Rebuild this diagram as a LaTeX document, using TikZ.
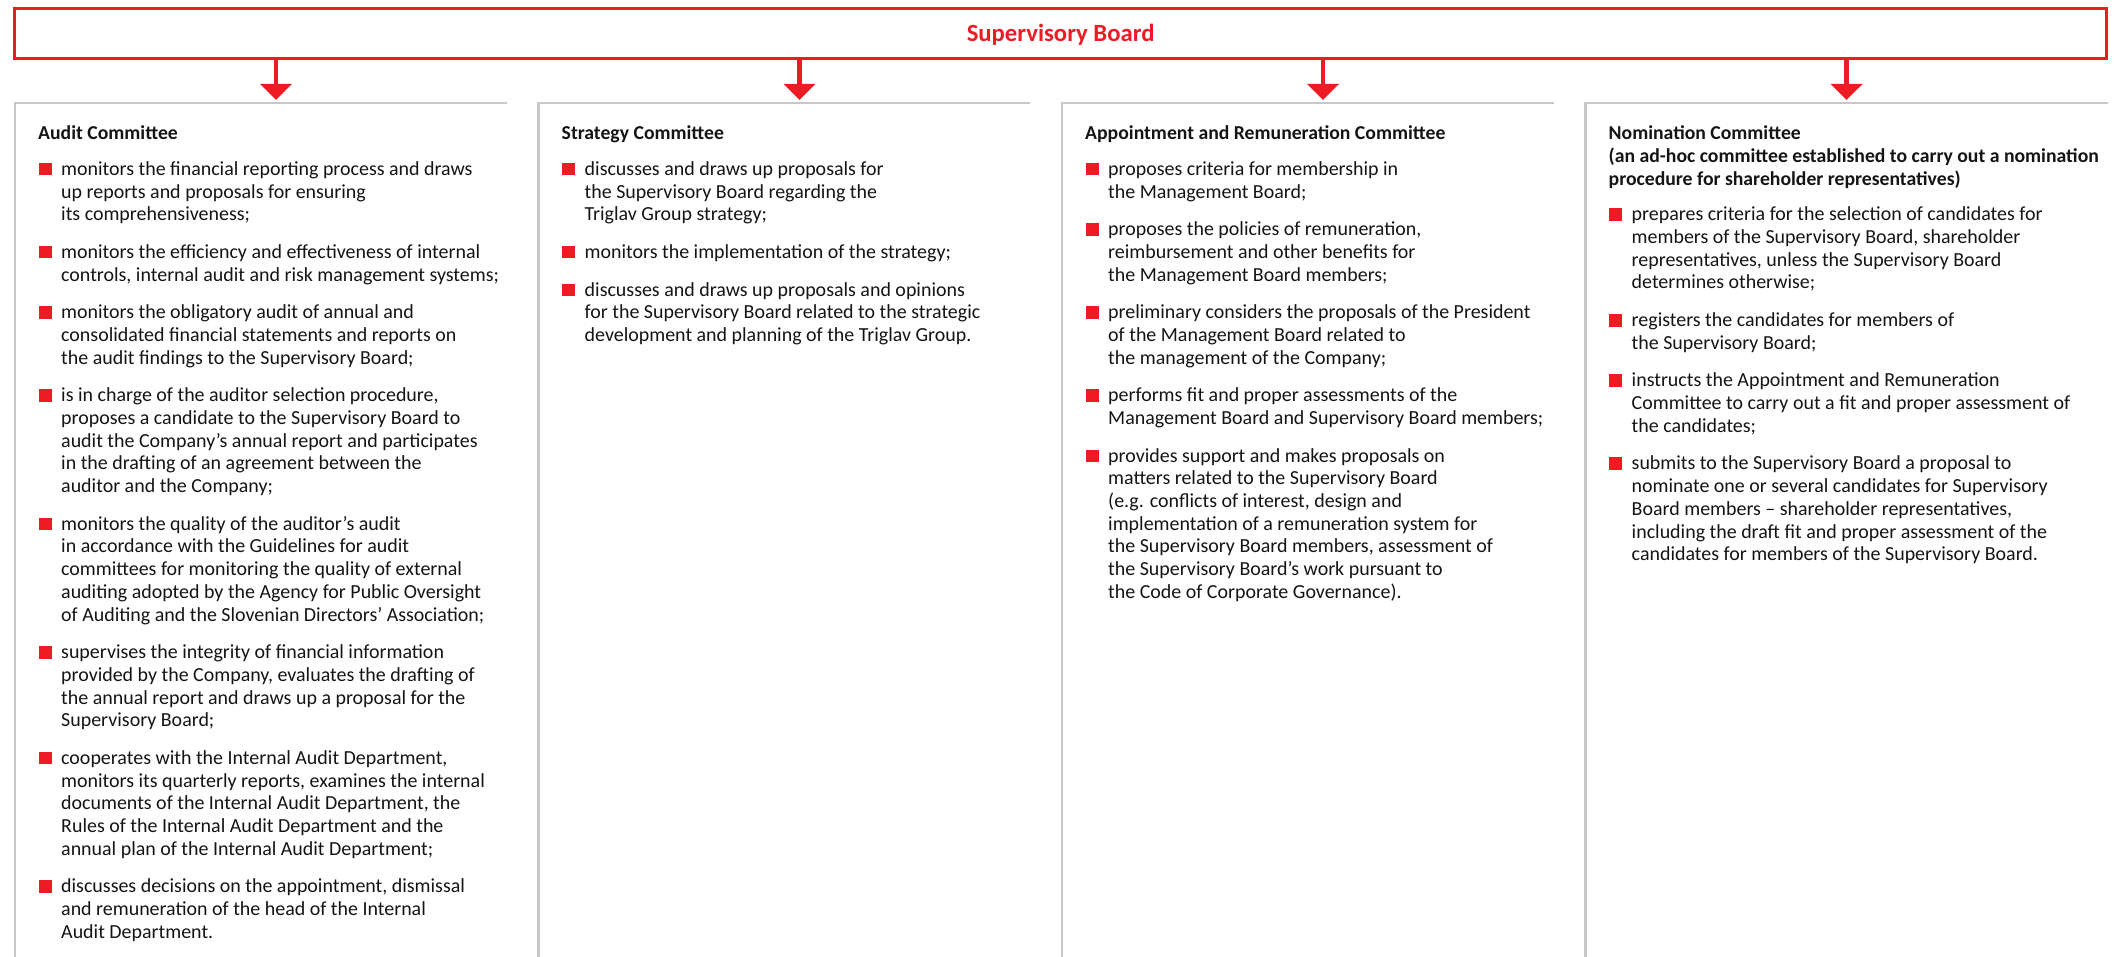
\documentclass[tikz,border=0pt]{standalone}
\usepackage{fontspec}
\setmainfont{Carlito}
\usetikzlibrary{arrows.meta}
\definecolor{trired}{RGB}{237,28,36}
\definecolor{panelgray}{RGB}{200,200,200}
\definecolor{txtcol}{RGB}{20,20,20}
\newcommand{\bl}[1]{\begin{tabular}[t]{@{}l@{}}#1\end{tabular}}
\begin{document}
\begin{tikzpicture}[x=1pt,y=-1pt,
  board/.style={draw=trired, line width=2.6pt, minimum width=2091.8pt, minimum height=50pt,
    inner sep=0pt, outer sep=0pt, text=trired,
    font=\fontsize{24.7}{28}\selectfont\bfseries, text height=17.4pt, text depth=0pt},
  panel/.style={draw=panelgray, line width=2.6pt},
  conn/.style={draw=trired, line width=4.5pt, -{Triangle[width=31pt,length=16pt]}},
  ttl/.style={anchor=base west, inner sep=0pt, text=txtcol,
    font=\fontsize{19.7}{22.7}\selectfont\bfseries},
  itm/.style={anchor=base west, inner sep=0pt, text=txtcol,
    font=\fontsize{19.95}{22.7}\selectfont},
  sq/.style={fill=trired}
]
\useasboundingbox (0,0) rectangle (2114,957);

% top board
\node[board] (sb) at (1060.6,33.3) {Supervisory Board};

% panels
\draw[panel] (15,957) -- (15,103) -- (507,103);
\draw[panel] (538.5,957) -- (538.5,103) -- (1030,103);
\draw[panel] (1062,957) -- (1062,103) -- (1553.5,103);
\draw[panel] (1585.5,957) -- (1585.5,103) -- (2108,103);

% arrow targets
\coordinate (p1) at (276,100);
\coordinate (p2) at (799.5,100);
\coordinate (p3) at (1323,100);
\coordinate (p4) at (1846.5,100);
\foreach \p in {p1,p2,p3,p4}
  \draw[conn] (sb.south -| \p) -- (\p);

% ---------- Audit Committee ----------
\node[ttl] (t1) at (38,140) {Audit Committee};
\node[itm] (a1) at (61,175.5) {\bl{monitors the financial reporting process and draws\\up reports and proposals for ensuring\\its comprehensiveness;}};
\node[itm] (a2) at (61,258.5) {\bl{monitors the efficiency and effectiveness of internal\\controls, internal audit and risk management systems;}};
\node[itm] (a3) at (61,318.8) {\bl{monitors the obligatory audit of annual and\\consolidated financial statements and reports on\\the audit findings to the Supervisory Board;}};
\node[itm] (a4) at (61,401.8) {\bl{is in charge of the auditor selection procedure,\\proposes a candidate to the Supervisory Board to\\audit the Company’s annual report and participates\\in the drafting of an agreement between the\\auditor and the Company;}};
\node[itm] (a5) at (61,530.2) {\bl{monitors the quality of the auditor’s audit\\in accordance with the Guidelines for audit\\committees for monitoring the quality of external\\auditing adopted by the Agency for Public Oversight\\of Auditing and the Slovenian Directors’ Association;}};
\node[itm] (a6) at (61,658.6) {\bl{supervises the integrity of financial information\\provided by the Company, evaluates the drafting of\\the annual report and draws up a proposal for the\\Supervisory Board;}};
\node[itm] (a7) at (61,764.3) {\bl{cooperates with the Internal Audit Department,\\monitors its quarterly reports, examines the internal\\documents of the Internal Audit Department, the\\Rules of the Internal Audit Department and the\\annual plan of the Internal Audit Department;}};
\node[itm] (a8) at (61,892.7) {\bl{discusses decisions on the appointment, dismissal\\and remuneration of the head of the Internal\\Audit Department.}};

% ---------- Strategy Committee ----------
\node[ttl] (t2) at (561.5,140) {Strategy Committee};
\node[itm] (s1) at (584.5,175.5) {\bl{discusses and draws up proposals for\\the Supervisory Board regarding the\\Triglav Group strategy;}};
\node[itm] (s2) at (584.5,258.5) {\bl{monitors the implementation of the strategy;}};
\node[itm] (s3) at (584.5,296.1) {\bl{discusses and draws up proposals and opinions\\for the Supervisory Board related to the strategic\\development and planning of the Triglav Group.}};

% ---------- Appointment and Remuneration Committee ----------
\node[ttl] (t3) at (1085,140) {Appointment and Remuneration Committee};
\node[itm] (r1) at (1108,175.5) {\bl{proposes criteria for membership in\\the Management Board;}};
\node[itm] (r2) at (1108,235.8) {\bl{proposes the policies of remuneration,\\reimbursement and other benefits for\\the Management Board members;}};
\node[itm] (r3) at (1108,318.8) {\bl{preliminary considers the proposals of the President\\of the Management Board related to\\the management of the Company;}};
\node[itm] (r4) at (1108,401.8) {\bl{performs fit and proper assessments of the\\Management Board and Supervisory Board members;}};
\node[itm] (r5) at (1108,462.1) {\bl{provides support and makes proposals on\\matters related to the Supervisory Board\\(e.g. conflicts of interest, design and\\implementation of a remuneration system for\\the Supervisory Board members, assessment of\\the Supervisory Board’s work pursuant to\\the Code of Corporate Governance).}};

% ---------- Nomination Committee ----------
\node[ttl] (t4) at (1608.5,140) {\bl{Nomination Committee\\(an ad-hoc committee established to carry out a nomination\\procedure for shareholder representatives)}};
\node[itm] (n1) at (1631.5,220.9) {\bl{prepares criteria for the selection of candidates for\\members of the Supervisory Board, shareholder\\representatives, unless the Supervisory Board\\determines otherwise;}};
\node[itm] (n2) at (1631.5,326.6) {\bl{registers the candidates for members of\\the Supervisory Board;}};
\node[itm] (n3) at (1631.5,386.9) {\bl{instructs the Appointment and Remuneration\\Committee to carry out a fit and proper assessment of\\the candidates;}};
\node[itm] (n4) at (1631.5,469.9) {\bl{submits to the Supervisory Board a proposal to\\nominate one or several candidates for Supervisory\\Board members -- shareholder representatives,\\including the draft fit and proper assessment of the\\candidates for members of the Supervisory Board.}};

% bullet squares
\foreach \n in {a1,a2,a3,a4,a5,a6,a7,a8,s1,s2,s3,r1,r2,r3,r4,r5,n1,n2,n3,n4}
  \fill[sq] ([xshift=-22.5pt]\n.base west) rectangle ++(13pt,12.5pt);
\end{tikzpicture}
\end{document}
